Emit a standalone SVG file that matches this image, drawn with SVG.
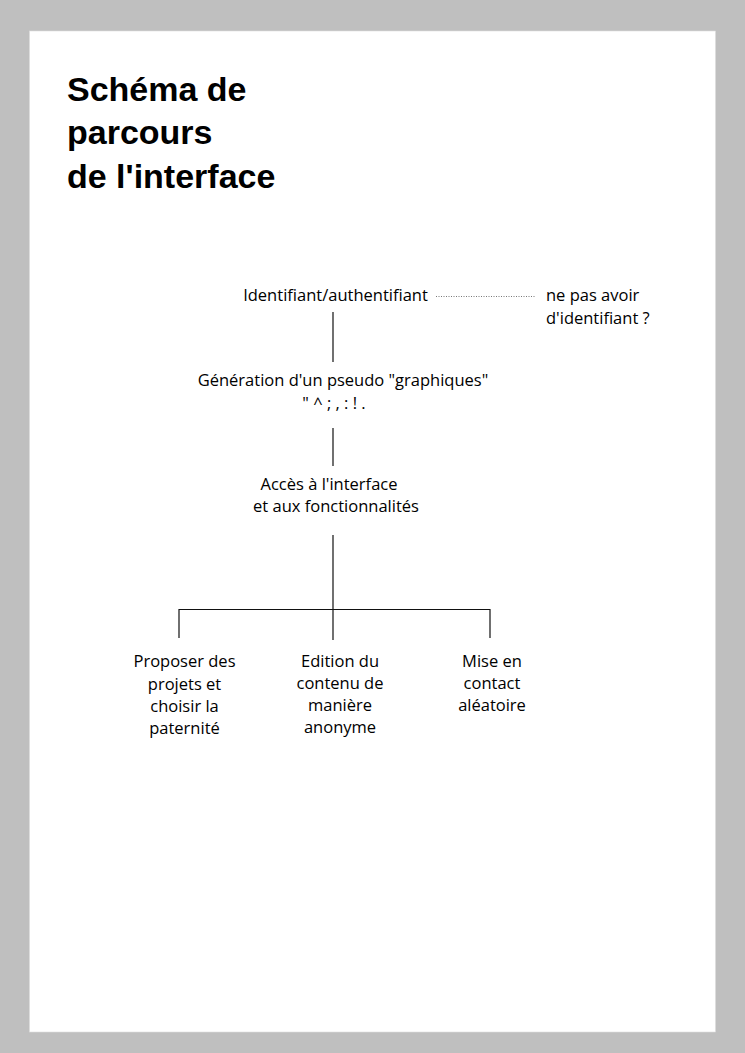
<svg xmlns="http://www.w3.org/2000/svg" width="745" height="1053" viewBox="0 0 745 1053">
<style>
.t{font-family:"Open Sans","DejaVu Sans",sans-serif;font-size:16.5px;font-weight:500;fill:#000}
.c{text-anchor:middle}
.title{font-family:"Liberation Sans",Arial,sans-serif;font-weight:bold;font-size:34px;fill:#000}
.ln{stroke:#111;stroke-width:1.2;fill:none}
</style>
<rect x="0" y="0" width="745" height="1053" fill="#bfbfbf"/>
<rect x="29.5" y="31" width="686" height="1001" fill="#fff" stroke="#ddd" stroke-width="0.6"/>
<g id="title">
<text class="title" x="67" y="101">Schéma de</text>
<text class="title" x="67" y="144">parcours</text>
<text class="title" x="67" y="188">de l'interface</text>
</g>
<g id="connectors">
<line x1="436" y1="296.5" x2="535" y2="296.5" stroke="#777" stroke-width="1" stroke-dasharray="1 1.5"/>
<line class="ln" x1="333" y1="312" x2="333" y2="362"/>
<line class="ln" x1="333" y1="428" x2="333" y2="466"/>
<line class="ln" x1="333" y1="535" x2="333" y2="640"/>
<polyline class="ln" points="179,638 179,609.5 490,609.5 490,638" stroke="#444"/>
</g>
<g id="node-identifiant">
<text class="t c" x="335.5" y="301">Identifiant/authentifiant</text>
</g>
<g id="node-sans-identifiant">
<text class="t" x="546" y="301">ne pas avoir</text>
<text class="t" x="546" y="324">d'identifiant ?</text>
</g>
<g id="node-generation">
<text class="t c" x="343" y="386">Génération d'un pseudo "graphiques"</text>
<text class="t c" x="334" y="409">" ^ ; , : ! .</text>
</g>
<g id="node-acces">
<text class="t c" x="329" y="490">Accès à l'interface</text>
<text class="t c" x="336" y="512">et aux fonctionnalités</text>
</g>
<g id="node-proposer">
<text class="t c" x="184.5" y="667">Proposer des</text>
<text class="t c" x="184.5" y="690">projets et</text>
<text class="t c" x="184.5" y="712">choisir la</text>
<text class="t c" x="184.5" y="734">paternité</text>
</g>
<g id="node-edition">
<text class="t c" x="340" y="667">Edition du</text>
<text class="t c" x="340" y="689">contenu de</text>
<text class="t c" x="340" y="711">manière</text>
<text class="t c" x="340" y="733">anonyme</text>
</g>
<g id="node-contact">
<text class="t c" x="492" y="667">Mise en</text>
<text class="t c" x="492" y="689">contact</text>
<text class="t c" x="492" y="711">aléatoire</text>
</g>
</svg>
